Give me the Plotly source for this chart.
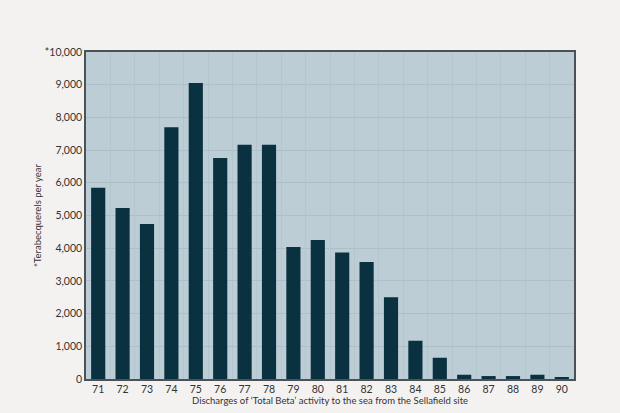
import plotly.graph_objects as go

years = list(range(71, 91))
discharges = [5850, 5230, 4740, 7700, 9050, 6760, 7160, 7160, 4040, 4250,
              3870, 3580, 2500, 1170, 650, 130, 90, 90, 130, 60]

y_ticks = list(range(0, 10001, 1000))
y_labels = [f"{v:,}" for v in y_ticks]
y_labels[-1] = "*10,000"

x_title = "Discharges of ‘Total Beta’ activity to the sea from the Sellafield site"
y_title = "*Terabecquerels per year"

fig = go.Figure(go.Bar(
    x=years,
    y=discharges,
    marker=dict(color="#0a3140", line=dict(width=0)),
    width=0.58,
))

fig.update_layout(
    width=620, height=413,
    margin=dict(l=86, r=46, t=52, b=34),
    paper_bgcolor="#f3f2f0",
    plot_bgcolor="#bccdd6",
    font=dict(family="Lato", size=10.5, color="#333333"),
    showlegend=False,
)

fig.update_xaxes(
    range=[70.5, 90.5],
    tickmode="array", tickvals=years, ticktext=[str(y) for y in years],
    showgrid=False,
    minor=dict(tick0=70.5, dtick=1, showgrid=True, gridcolor="#b3c5ce", gridwidth=1),
    showline=True, mirror=True, linecolor="#4b5154", linewidth=1.5,
    ticks="", ticklen=0, automargin=False,
)
fig.update_yaxes(
    range=[0, 10000],
    tickmode="array", tickvals=y_ticks, ticktext=y_labels,
    showgrid=True, gridcolor="#adbfc9", gridwidth=1,
    zeroline=False, automargin=False,
    showline=True, mirror=True, linecolor="#4b5154", linewidth=1.5,
    ticks="",
    title=dict(text=y_title, font=dict(size=9.5, color="#333333"), standoff=2),
)

# x title as annotation so it sits close under the tick labels
fig.add_annotation(
    text=x_title, xref="paper", yref="paper", x=0.5, y=0,
    yanchor="middle", yshift=-21, showarrow=False,
    font=dict(size=9.5, color="#333333"),
)

fig.write_html("out.html", config={"displayModeBar": False},
               post_script="document.body.style.margin='0';")
